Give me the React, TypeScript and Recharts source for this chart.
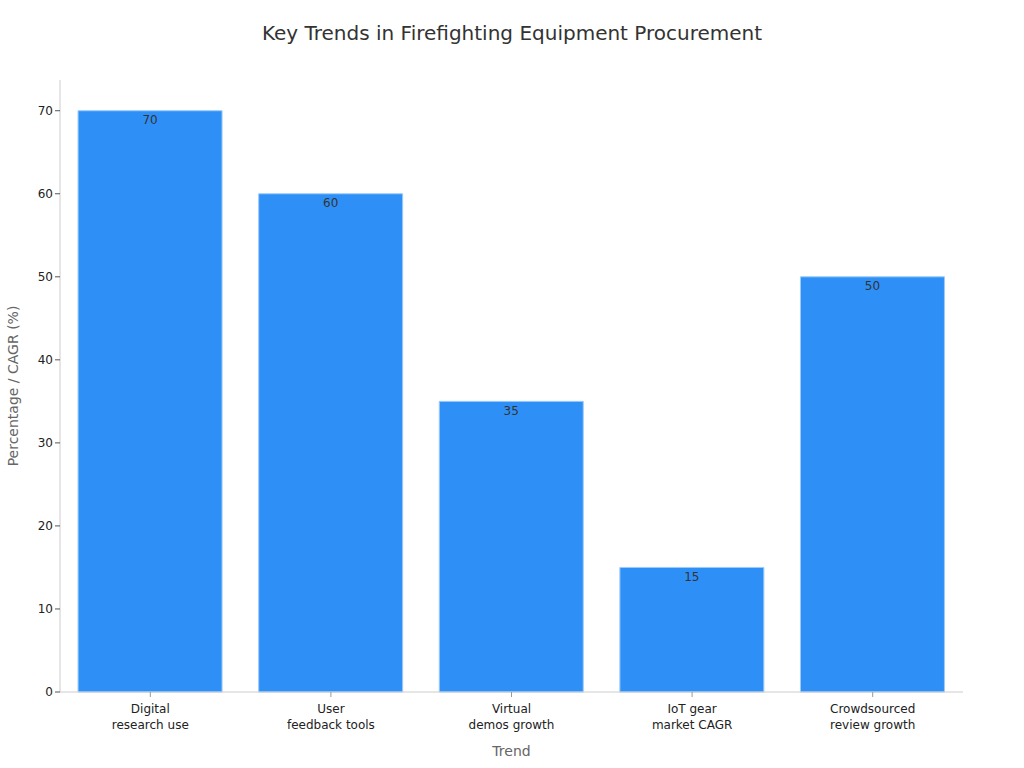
import { BarChart, Bar, XAxis, YAxis, LabelList } from "recharts";

const trends = [
  "Digital\nresearch use",
  "User\nfeedback tools",
  "Virtual\ndemos growth",
  "IoT gear\nmarket CAGR",
  "Crowdsourced\nreview growth",
];
const values = [70, 60, 35, 15, 50];
const yTicks = [0, 10, 20, 30, 40, 50, 60, 70];

const data = trends.map((trend, i) => ({ trend, value: values[i] }));

const FONT = "'DejaVu Sans', sans-serif";

function TrendTick({ x, y, payload }: any) {
  const lines = String(payload.value).split("\n");
  return (
    <text x={x} y={y} textAnchor="middle" fill="#222" fontSize={12} fontFamily={FONT}>
      {lines.map((line, i) => (
        <tspan key={i} x={x} dy={i === 0 ? 14 : 16}>
          {line}
        </tspan>
      ))}
    </text>
  );
}

export default function App() {
  return (
    <div style={{ position: "absolute", left: 0, top: 0, width: 1024, height: 768, background: "#fff" }}>
      <div
        style={{
          position: "absolute",
          top: 21,
          width: 1024,
          textAlign: "center",
          fontFamily: FONT,
          fontSize: 20,
          color: "#333",
        }}
      >
        Key Trends in Firefighting Equipment Procurement
      </div>
      <BarChart
        width={1024}
        height={768}
        data={data}
        margin={{ top: 80, right: 61, left: 1, bottom: 0 }}
        barCategoryGap="10%"
      >
        <XAxis
          dataKey="trend"
          height={76}
          tick={<TrendTick />}
          tickLine={{ stroke: "#999" }}
          tickSize={5}
          axisLine={{ stroke: "#ccc" }}
          interval={0}
          label={{
            value: "Trend",
            position: "insideBottom",
            offset: 12,
            fill: "#666",
            fontSize: 14,
            fontFamily: FONT,
          }}
        />
        <YAxis
          width={59}
          domain={[0, 73.7]}
          ticks={yTicks}
          tick={{ fill: "#222", fontSize: 12, fontFamily: FONT }}
          tickLine={{ stroke: "#555" }}
          tickSize={5}
          axisLine={{ stroke: "#ccc" }}
          label={{
            value: "Percentage / CAGR (%)",
            angle: -90,
            position: "insideLeft",
            offset: 12,
            style: { textAnchor: "middle" },
            fill: "#666",
            fontSize: 14,
            fontFamily: FONT,
          }}
        />
        <Bar dataKey="value" fill="#2E90F7" stroke="#9ccbfa" strokeWidth={1} isAnimationActive={false}>
          <LabelList
            dataKey="value"
            position="insideTop"
            offset={5}
            fill="#333"
            fontSize={12}
            fontFamily={FONT}
          />
        </Bar>
      </BarChart>
    </div>
  );
}
